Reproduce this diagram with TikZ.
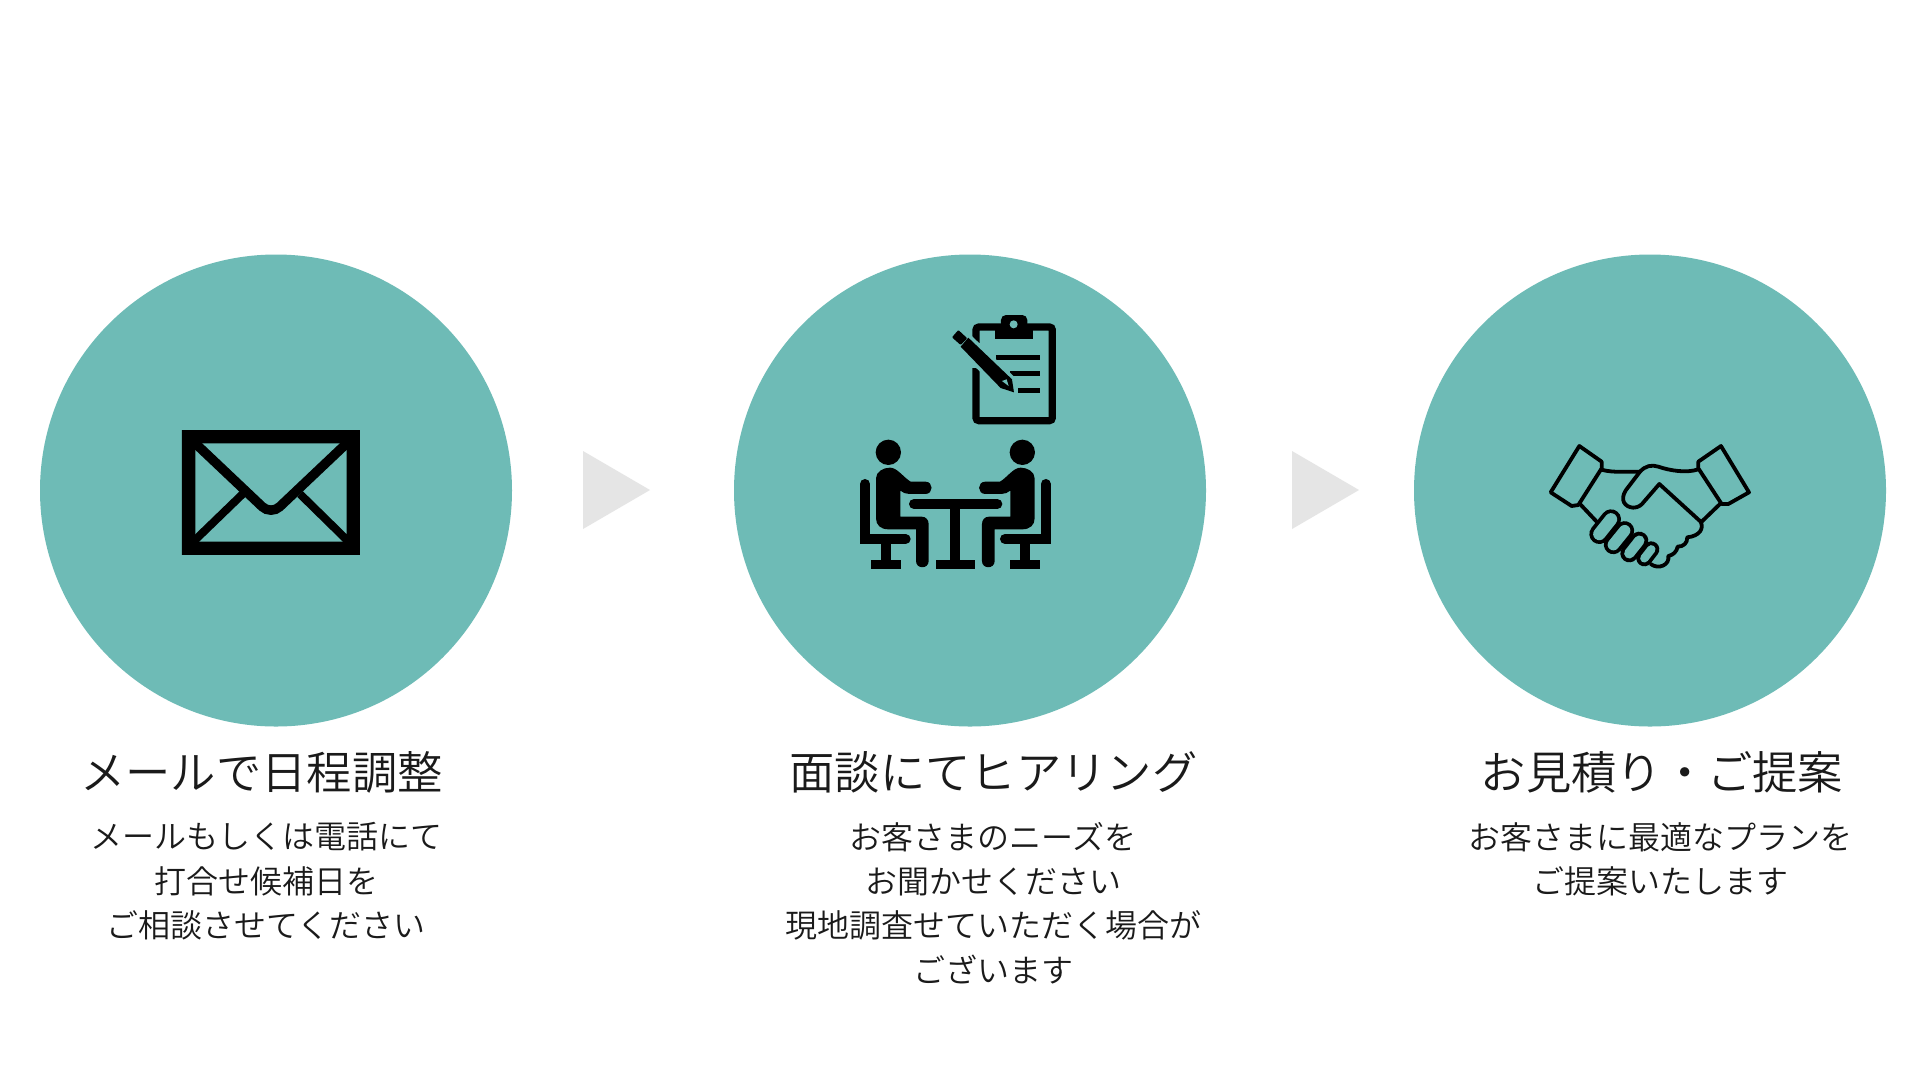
\documentclass[tikz,border=0pt]{standalone}
\usepackage{fontspec}
\newfontfamily\jp{Noto Sans CJK JP DemiLight}
\definecolor{teal1}{HTML}{6EBBB6}
\definecolor{arrowgray}{HTML}{E5E5E5}
\definecolor{ink}{HTML}{1A1A1A}
\tikzset{
  disc/.style={circle,fill=teal1,draw=none,minimum size=472pt,inner sep=0pt},
  titletext/.style={font=\jp\fontsize{45.3}{52}\selectfont,text=ink,inner sep=0pt,align=center},
  bodytext/.style={font=\jp\fontsize{32}{44.1}\selectfont,text=ink,inner sep=0pt,align=center,anchor=north},
  nextarrow/.style={fill=arrowgray,draw=none},
  bar/.style={draw=black,line cap=round},
  hs/.style={draw=black,line width=3.8pt,line join=round,line cap=round},
}
\newcommand{\chairperson}{%
  \fill[black] (145,457) circle (38);
  \fill[black] (108,535) .. controls (108,515) and (130,503) .. (150,503)
    .. controls (172,503) and (190,532) .. (212,545) -- (256,545) .. controls (281,545) and (281,582) .. (256,582)
    -- (208,582) .. controls (198,582) and (188,578) .. (181,572) -- (181,650) -- (245,650)
    .. controls (258,650) and (266,660) .. (266,672) -- (266,783)
    .. controls (266,808) and (228,808) .. (228,783) -- (228,688) -- (145,688)
    .. controls (122,688) and (108,675) .. (108,655) -- cycle;
  \draw[bar,line width=10pt] (75,552) -- (75,717) -- (197,717);
  \fill[black] (122,725) rectangle (152,785);
  \fill[black] (92,780) rectangle (182,808);
}
\begin{document}
\begin{tikzpicture}[x=1pt,y=-1pt]
\useasboundingbox (0,0) rectangle (1920,1080);
\fill[white] (0,0) rectangle (1920,1080);
\node[disc] (c1) at (276,490.5) {};
\node[disc] (c2) at (970,490.5) {};
\node[disc] (c3) at (1650,490.5) {};
\fill[nextarrow] (583,451) -- (650,490) -- (583,529) -- cycle;
\fill[nextarrow] (1292,451) -- (1359,490) -- (1292,529) -- cycle;
% envelope
\begin{scope}[shift={(150,400)},x=0.3333pt,y=-0.3333pt]
  \begin{scope}
    \clip (100,95) rectangle (626,460);
    \draw[black,line width=9.5pt,rounded corners=12pt] (120,115) -- (363,345) -- (606,115);
    \draw[black,line width=8pt] (125,430) -- (278,282);
    \draw[black,line width=8pt] (601,430) -- (450,282);
  \end{scope}
  \fill[black,even odd rule] (96,90) rectangle (630,465) (136,130) rectangle (590,425);
\end{scope}
% clipboard and meeting
\begin{scope}[shift={(840,300)},x=0.3333pt,y=-0.3333pt]
  \draw[black,line width=7.3pt,rounded corners=3pt] (408,81) rectangle (637,362);
  \fill[black] (465,72) rectangle (580,118);
  \fill[black,rounded corners=5pt] (483,45) rectangle (562,85);
  \fill[teal1] (521,73) circle (12);
  \draw[black,line width=5pt] (468,172) -- (600,172);
  \draw[black,line width=5pt] (510,221) -- (600,221);
  \draw[black,line width=5pt] (535,271) -- (600,271);
  \draw[teal1,line width=20pt] (375,130) -- (505,255);
  \fill[teal1] (390,130) rectangle (425,205);
  \fill[black,rounded corners=1pt] (336,112) -- (355,90) -- (382,115) -- (362,135) -- cycle;
  \fill[black] (385,113) -- (516,238) -- (522,277) -- (482,264) -- (362,140) -- cycle;
  \fill[teal1] (486,243) -- (500,238) -- (506,258) -- cycle;
  \chairperson
  \begin{scope}[shift={(692,0)},xscale=-1]
    \chairperson
  \end{scope}
  \draw[bar,line width=10pt] (222,612) -- (472,612);
  \fill[black] (330,612) rectangle (361,785);
  \fill[black] (288,780) rectangle (405,808);
\end{scope}
% handshake
\begin{scope}[shift={(1530,430)},x=0.3333pt,y=-0.3333pt]
  \draw[hs] (148,48) -- (215,95) -- (215,115) -- (145,225) -- (125,228) -- (62,187) -- cycle;
  \draw[hs] (573,48) -- (505,95) -- (505,115) -- (575,222) -- (595,222) -- (657,187) -- cycle;
  \draw[hs] (218,120) .. controls (250,128) and (290,125) .. (330,125);
  \draw[hs] (150,222) -- (200,275);
  \draw[hs] (570,222) -- (515,275);
  \draw[hs] (505,118) .. controls (470,130) and (420,122) .. (385,110) .. controls (365,103) and (345,108) .. (330,125)
    -- (288,180) .. controls (268,210) and (285,232) .. (310,233) .. controls (325,233) and (335,225) .. (342,215)
    -- (388,162) -- (512,275) .. controls (522,295) and (510,318) .. (472,322)
    .. controls (472,340) and (460,350) .. (443,350) .. controls (440,365) and (430,375) .. (415,378)
    .. controls (420,405) and (385,420) .. (362,402);
  \foreach \ax/\ay/\bx/\by/\w in {364/358/343/385/16,328/332/298/370/18,284/302/250/344/19,243/268/208/312/20}{
    \draw[black,line width=\w pt,line cap=round] (\ax,\ay) -- (\bx,\by);
    \draw[teal1,line width=\w pt-7.6pt,line cap=round] (\ax,\ay) -- (\bx,\by);
  }
\end{scope}
% texts
\node[titletext] (t1) at (261.5,772) {メールで日程調整};
\node[titletext] (t2) at (993.5,772) {面談にてヒアリング};
\node[titletext] (t3) at (1662,772) {お見積り・ご提案};
\node[bodytext] (b1) at (266,822.5) {メールもしくは電話にて\\打合せ候補日を\\ご相談させてください};
\node[bodytext] (b2) at (993,822.5) {お客さまのニーズを\\お聞かせください\\現地調査せていただく場合が\\ございます};
\node[bodytext] (b3) at (1660,822.5) {お客さまに最適なプランを\\ご提案いたします};
\end{tikzpicture}
\end{document}
